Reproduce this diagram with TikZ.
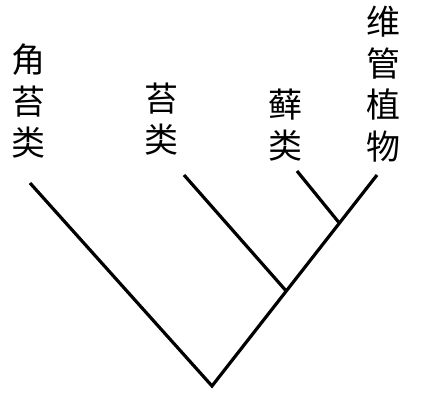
\documentclass[tikz,border=0pt]{standalone}
\usepackage{fontspec}
\newfontfamily\cjk{Noto Sans CJK SC}
\usetikzlibrary{calc}
\tikzset{
  branch/.style={line width=3.2pt, black},
  taxon/.style={font=\cjk\fontsize{34}{41.5}\selectfont, align=center, inner sep=0pt, text=black}
}
\begin{document}
\begin{tikzpicture}[x=1pt,y=-1pt]
\useasboundingbox[fill=white] (0,0) rectangle (430,410);
\coordinate (R) at (212,386);
\coordinate (A) at (30,183);
\coordinate (B) at (184,175);
\coordinate (C) at (297,171);
\coordinate (D) at (377,175);
\coordinate (J1) at ($(R)!0.45!(D)$);
\coordinate (J2) at ($(R)!0.772!(D)$);
\draw[branch] (A) -- (R) -- (D);
\draw[branch] (B) -- (J1);
\draw[branch] (C) -- (J2);
\node[taxon] (la) at (29,101.5) {角\\苔\\类};
\node[taxon] (lb) at (161,119) {苔\\类};
\node[taxon] (lc) at (285,125) {藓\\类};
\node[taxon] (ld) at (383,84) {维\\管\\植\\物};
\end{tikzpicture}
\end{document}
